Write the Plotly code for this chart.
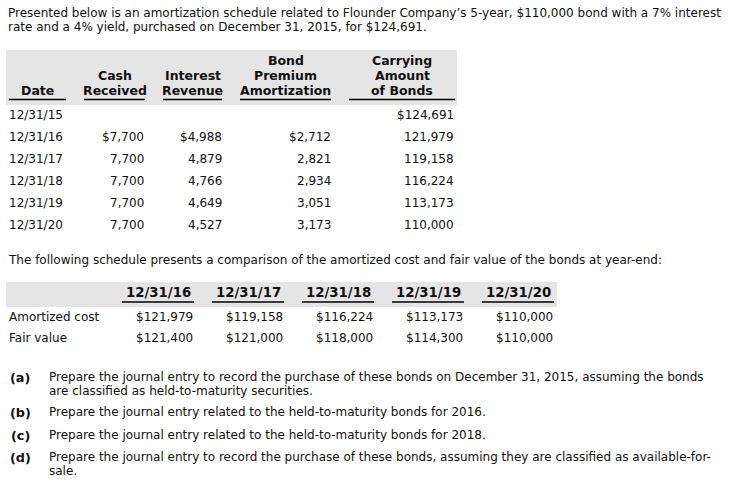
import plotly.graph_objects as go

# ---- data ----
dates = ["12/31/15", "12/31/16", "12/31/17", "12/31/18", "12/31/19", "12/31/20"]
cash_received = [None, 7700, 7700, 7700, 7700, 7700]
interest_revenue = [None, 4988, 4879, 4766, 4649, 4527]
premium_amortization = [None, 2712, 2821, 2934, 3051, 3173]
carrying_amount = [124691, 121979, 119158, 116224, 113173, 110000]

comp_dates = ["12/31/16", "12/31/17", "12/31/18", "12/31/19", "12/31/20"]
amortized_cost = [121979, 119158, 116224, 113173, 110000]
fair_value = [121400, 121000, 118000, 114300, 110000]

intro_lines = [
    "Presented below is an amortization schedule related to Flounder Company’s 5-year, $110,000 bond with a 7% interest",
    "rate and a 4% yield, purchased on December 31, 2015, for $124,691.",
]
second_intro = "The following schedule presents a comparison of the amortized cost and fair value of the bonds at year-end:"
questions = [
    ("(a)", ["Prepare the journal entry to record the purchase of these bonds on December 31, 2015, assuming the bonds",
             "are classified as held-to-maturity securities."]),
    ("(b)", ["Prepare the journal entry related to the held-to-maturity bonds for 2016."]),
    ("(c)", ["Prepare the journal entry related to the held-to-maturity bonds for 2018."]),
    ("(d)", ["Prepare the journal entry to record the purchase of these bonds, assuming they are classified as available-for-",
             "sale."]),
]

FONT = "DejaVu Sans"
FS = 12
COLOR = "#111111"
GRAY = "#e5e5e5"

fig = go.Figure()
ann = []
shapes = []


def text(x, y, s, anchor="left", bold=False, size=FS):
    if bold:
        s = "<b>" + s + "</b>"
    ann.append(dict(x=x, y=y, xref="x", yref="y", text=s, showarrow=False,
                    xanchor=anchor, yanchor="middle",
                    font=dict(family=FONT, size=size, color=COLOR)))


def rect(x0, y0, x1, y1, color):
    shapes.append(dict(type="rect", xref="x", yref="y", x0=x0, y0=y0, x1=x1, y1=y1,
                       fillcolor=color, line=dict(width=0), layer="below"))


def hline(x0, x1, y):
    shapes.append(dict(type="line", xref="x", yref="y", x0=x0, x1=x1, y0=y, y1=y,
                       line=dict(color="#000000", width=1.6)))


def fmt(v, dollar=False):
    if v is None:
        return ""
    return ("$" if dollar else "") + f"{v:,}"


# intro
for i, line in enumerate(intro_lines):
    text(6, 13 + 14 * i, line)

# ---- table 1 ----
rect(6, 50, 457, 105, GRAY)
headers = [
    (["Date"], 9, 66),
    (["Cash", "Received"], 84, 145),
    (["Interest", "Revenue"], 163, 222),
    (["Bond", "Premium", "Amortization"], 240, 331),
    (["Carrying", "Amount", "of Bonds"], 349, 455),
]
for lines, x0, x1 in headers:
    cx = (x0 + x1) / 2
    n = len(lines)
    for j, ln in enumerate(lines):
        y = 90 - 15 * (n - 1 - j)
        text(cx, y, ln, anchor="center", bold=True, size=12.5)
    hline(x0, x1, 99.5)

right_edges = [145, 223, 332, 455]
for i, d in enumerate(dates):
    y = 115 + 22 * i
    text(7, y, d)
    cols = [cash_received[i], interest_revenue[i], premium_amortization[i], carrying_amount[i]]
    for k, v in enumerate(cols):
        text(right_edges[k] + 1, y, fmt(v, dollar=(i == 0 and k == 3) or (i == 1 and k < 3)), anchor="right")

# second intro
text(6, 260, second_intro)

# ---- table 2 ----
rect(6, 282, 557, 307, GRAY)
for j, d in enumerate(comp_dates):
    x1 = 194 + 90 * j
    x0 = x1 - 72
    text((x0 + x1) / 2, 292, d, anchor="center", bold=True, size=13.3)
    hline(x0, x1, 302)
    text(x1 + 1, 317, fmt(amortized_cost[j], True), anchor="right")
    text(x1 + 1, 338, fmt(fair_value[j], True), anchor="right")
text(7, 317, "Amortized cost")
text(7, 338, "Fair value")

# ---- questions ----
qy = [377, 412, 435, 457]
for (lab, lines), y in zip(questions, qy):
    text(20, y, lab, anchor="center", bold=True, size=12.8)
    for j, ln in enumerate(lines):
        text(47, y + 14 * j, ln)

fig.update_layout(
    width=735, height=484,
    margin=dict(l=0, r=0, t=0, b=0),
    paper_bgcolor="white", plot_bgcolor="white",
    xaxis=dict(range=[0, 735], visible=False, fixedrange=True),
    yaxis=dict(range=[484, 0], visible=False, fixedrange=True),
    annotations=ann, shapes=shapes, showlegend=False,
)
fig.write_html("out.html", config={"displayModeBar": False},
               post_script="document.body.style.margin='0';document.body.style.overflow='hidden';")
